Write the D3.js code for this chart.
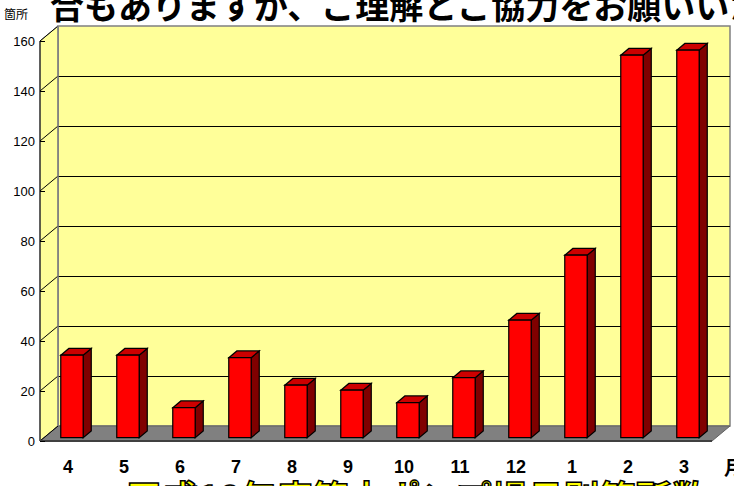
<!DOCTYPE html>
<html>
<head>
<meta charset="utf-8">
<script src="https://cdn.jsdelivr.net/npm/d3@7"></script>
<style>
  body { margin: 0; background: #fff; }
  text { font-family: "Noto Sans CJK JP", "Liberation Sans", sans-serif; }
  text.num { font-family: "Liberation Sans", Arial, sans-serif; }
</style>
</head>
<body>
<div class="chart"></div>
<script>
var months = ["4", "5", "6", "7", "8", "9", "10", "11", "12", "1", "2", "3"];
var counts = [33, 33, 12, 32, 21, 19, 14, 24, 47, 73, 153, 155];
var yTicks = [0, 20, 40, 60, 80, 100, 120, 140, 160];

var svgWidth = 734;
var svgHeight = 486;

// front plane of the 3d box
var plotLeft = 40, plotRight = 712, plotBottom = 441, plotTop = 41;
// full depth offset of the box
var depthX = 18, depthY = -15;
// bars sit between these depth fractions
var t0 = 0.22, t1 = 0.67;

var svg = d3.select(".chart")
  .append("svg")
  .attr("width", svgWidth)
  .attr("height", svgHeight);

var x = d3.scaleBand()
  .domain(months)
  .range([plotLeft, plotRight])
  .paddingInner(0.6)
  .paddingOuter(0.3);

var y = d3.scaleLinear()
  .domain([0, 160])
  .range([plotBottom, plotTop]);

function pt(px, py, t) {
  return [px + depthX * t, py + depthY * t];
}
function poly(points) {
  return points.map(function(p) { return p.join(","); }).join(" ");
}

// back wall
svg.append("polygon")
  .attr("points", poly([pt(plotLeft, plotTop, 1), pt(plotRight, plotTop, 1), pt(plotRight, plotBottom, 1), pt(plotLeft, plotBottom, 1)]))
  .attr("fill", "#ffff99")
  .attr("stroke", "#808080")
  .attr("stroke-width", 1.5);

// side wall
svg.append("polygon")
  .attr("points", poly([[plotLeft, plotTop], pt(plotLeft, plotTop, 1), pt(plotLeft, plotBottom, 1), [plotLeft, plotBottom]]))
  .attr("fill", "#ffff99")
  .attr("stroke", "#808080")
  .attr("stroke-width", 1);

// floor
svg.append("polygon")
  .attr("points", poly([[plotLeft, plotBottom], [plotRight, plotBottom], pt(plotRight, plotBottom, 1), pt(plotLeft, plotBottom, 1)]))
  .attr("fill", "#808080")
  .attr("stroke", "#606060")
  .attr("stroke-width", 1);

// gridlines on back + side wall
var grid = svg.append("g");
yTicks.forEach(function(v) {
  var b0 = pt(plotLeft, y(v), 1), b1 = pt(plotRight, y(v), 1);
  grid.append("line")
    .attr("x1", plotLeft).attr("y1", y(v))
    .attr("x2", b0[0]).attr("y2", b0[1])
    .attr("stroke", "#000").attr("stroke-width", 1);
  if (v === 0 || v === 160) return;
  grid.append("line")
    .attr("x1", b0[0]).attr("y1", b0[1])
    .attr("x2", b1[0]).attr("y2", b1[1])
    .attr("stroke", "#000").attr("stroke-width", 1)
    .attr("shape-rendering", "crispEdges");
});

// back wall left edge redraw
svg.append("line")
  .attr("x1", pt(plotLeft, plotTop, 1)[0]).attr("y1", pt(plotLeft, plotTop, 1)[1])
  .attr("x2", pt(plotLeft, plotBottom, 1)[0]).attr("y2", pt(plotLeft, plotBottom, 1)[1])
  .attr("stroke", "#808080").attr("stroke-width", 1.5);

// front axis
svg.append("line")
  .attr("x1", plotLeft).attr("y1", plotTop)
  .attr("x2", plotLeft).attr("y2", plotBottom)
  .attr("stroke", "#000");
svg.append("line")
  .attr("x1", plotLeft).attr("y1", plotBottom)
  .attr("x2", plotRight).attr("y2", plotBottom)
  .attr("stroke", "#404040")
  .attr("stroke-width", 2);

var leftAxis = d3.axisLeft(y).tickValues(yTicks).tickSize(-5).tickPadding(5);
var axisG = svg.append("g")
  .attr("transform", "translate(" + plotLeft + ",0)")
  .call(leftAxis);
axisG.select(".domain").remove();
axisG.selectAll("line").attr("stroke", "#000");
axisG.selectAll("text")
  .attr("class", "num")
  .attr("font-size", 13)
  .attr("fill", "#000");

// bars
var bars = svg.append("g").selectAll("g")
  .data(counts)
  .enter().append("g");

bars.each(function(d, i) {
  var g = d3.select(this);
  var xa = x(months[i]), xb = xa + x.bandwidth();
  var yb = y(0), yt = y(d);
  var fA = pt(xa, yt, t0), fB = pt(xb, yt, t0), fC = pt(xb, yb, t0), fD = pt(xa, yb, t0);
  var bA = pt(xa, yt, t1), bB = pt(xb, yt, t1), bC = pt(xb, yb, t1);
  g.append("polygon")
    .attr("points", poly([fB, bB, bC, fC]))
    .attr("fill", "#800000").attr("stroke", "#000").attr("stroke-width", 1.2);
  g.append("polygon")
    .attr("points", poly([fA, bA, bB, fB]))
    .attr("fill", "#cc0000").attr("stroke", "#000").attr("stroke-width", 1.2);
  g.append("polygon")
    .attr("points", poly([fA, fB, fC, fD]))
    .attr("fill", "#ff0000").attr("stroke", "#000").attr("stroke-width", 1.2);
});

// title (cut off at top)
svg.append("text")
  .attr("x", 50)
  .attr("y", 19)
  .attr("font-size", 34)
  .attr("font-weight", "bold")
  .attr("fill", "#000")
  .text("合もありますが、ご理解とご協力をお願いいたします");

// unit label
svg.append("text")
  .attr("x", 4)
  .attr("y", 19)
  .attr("font-size", 12)
  .attr("fill", "#000")
  .text("箇所");

// month labels
svg.append("g").selectAll("text")
  .data(months)
  .enter().append("text")
    .attr("class", "num")
    .attr("x", function(d) { return x(d) + x.bandwidth() / 2; })
    .attr("y", 473)
    .attr("text-anchor", "middle")
    .attr("font-size", 18)
    .attr("font-weight", "bold")
    .attr("fill", "#000")
    .text(function(d) { return d; });

svg.append("text")
  .attr("x", 724)
  .attr("y", 475)
  .attr("font-size", 19)
  .attr("font-weight", "bold")
  .attr("fill", "#000")
  .text("月");

// lower caption (cut off at bottom)
svg.append("text")
  .attr("x", 126)
  .attr("y", 512)
  .attr("font-size", 36)
  .attr("font-weight", "bold")
  .attr("fill", "#ffff00")
  .attr("stroke", "#000")
  .attr("stroke-width", 1.5)
  .text("平成18年度第十ポンプ場月別箇所数");
</script>
</body>
</html>
